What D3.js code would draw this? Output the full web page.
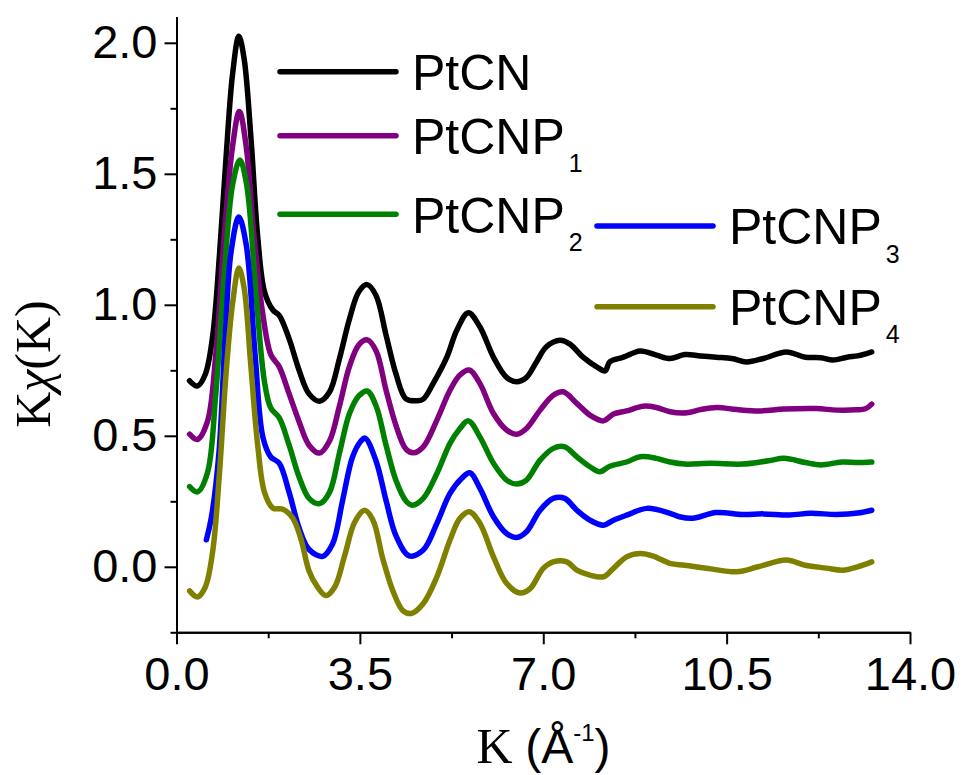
<!DOCTYPE html>
<html>
<head>
<meta charset="utf-8">
<script src="https://cdn.jsdelivr.net/npm/d3@7"></script>
<style>
  html, body { margin: 0; padding: 0; background: #fff; }
  svg { display: block; }
</style>
</head>
<body>
<svg id="chart" width="964" height="775"></svg>
<script>
// ---------------- data ----------------
const seriesNames = ["PtCN", "PtCNP1", "PtCNP2", "PtCNP3", "PtCNP4"];
const seriesBase = ["PtCNP", "PtCNP", "PtCNP", "PtCNP", "PtCNP"];
const seriesSub = ["", "1", "2", "3", "4"];
const seriesColors = ["#000000", "#800080", "#008000", "#0000ff", "#808000"];

const xMajorTicks = [0.0, 3.5, 7.0, 10.5, 14.0];
const xMinorTicks = [1.75, 5.25, 8.75, 12.25];
const yMajorTicks = [0.0, 0.5, 1.0, 1.5, 2.0];
const yMinorTicks = [-0.25, 0.25, 0.75, 1.25, 1.75];

const PtCN = [[0.25,0.71],[0.40,0.69],[0.55,0.735],[0.69,0.88],[0.82,1.19],[0.945,1.56],[1.07,1.88],[1.19,2.025],[1.29,1.94],[1.42,1.64],[1.55,1.26],[1.68,1.05],[1.84,0.98],[1.96,0.96],[2.15,0.87],[2.34,0.75],[2.53,0.66],[2.73,0.632],[2.92,0.667],[3.11,0.794],[3.30,0.945],[3.48,1.05],[3.64,1.077],[3.81,1.035],[4.0,0.884],[4.19,0.735],[4.38,0.641],[4.6,0.634],[4.71,0.64],[4.90,0.70],[5.16,0.80],[5.35,0.903],[5.57,0.97],[5.79,0.916],[6.05,0.80],[6.30,0.723],[6.49,0.706],[6.68,0.723],[6.87,0.782],[7.06,0.84],[7.32,0.865],[7.51,0.85],[7.76,0.80],[8.02,0.763],[8.18,0.748],[8.27,0.782],[8.53,0.80],[8.85,0.824],[9.16,0.808],[9.42,0.795],[9.7,0.81],[10.0,0.805],[10.3,0.80],[10.6,0.795],[10.88,0.782],[11.2,0.795],[11.64,0.82],[12.0,0.80],[12.3,0.798],[12.53,0.789],[12.8,0.80],[13.0,0.805],[13.17,0.814],[13.27,0.82]];

const PtCNP1 = [[0.25,0.506],[0.40,0.486],[0.59,0.554],[0.75,0.81],[0.91,1.26],[1.07,1.605],[1.20,1.738],[1.33,1.605],[1.48,1.26],[1.65,0.96],[1.80,0.81],[1.96,0.764],[2.15,0.66],[2.34,0.554],[2.53,0.464],[2.73,0.434],[2.92,0.48],[3.11,0.614],[3.30,0.764],[3.48,0.847],[3.64,0.866],[3.81,0.824],[4.0,0.674],[4.19,0.539],[4.38,0.449],[4.52,0.435],[4.71,0.458],[4.97,0.56],[5.22,0.674],[5.41,0.732],[5.59,0.751],[5.79,0.70],[6.05,0.585],[6.30,0.522],[6.49,0.506],[6.68,0.528],[6.94,0.598],[7.19,0.655],[7.38,0.668],[7.64,0.624],[7.89,0.579],[8.15,0.557],[8.34,0.583],[8.59,0.595],[8.91,0.613],[9.16,0.608],[9.42,0.592],[9.74,0.588],[10.0,0.60],[10.31,0.608],[10.7,0.60],[11.13,0.595],[11.6,0.602],[12.21,0.604],[12.6,0.598],[12.97,0.599],[13.15,0.603],[13.27,0.621]];

const PtCNP2 = [[0.25,0.306],[0.40,0.286],[0.59,0.358],[0.75,0.66],[0.91,1.11],[1.07,1.457],[1.21,1.553],[1.34,1.457],[1.52,1.035],[1.68,0.705],[1.80,0.606],[1.96,0.569],[2.15,0.464],[2.34,0.343],[2.53,0.261],[2.73,0.241],[2.92,0.284],[3.11,0.434],[3.30,0.584],[3.48,0.652],[3.64,0.671],[3.81,0.614],[4.0,0.464],[4.19,0.329],[4.38,0.251],[4.50,0.235],[4.71,0.261],[4.97,0.356],[5.22,0.471],[5.41,0.528],[5.57,0.557],[5.79,0.496],[6.05,0.395],[6.30,0.331],[6.49,0.316],[6.68,0.331],[6.94,0.407],[7.19,0.452],[7.41,0.458],[7.64,0.42],[7.89,0.382],[8.08,0.363],[8.27,0.384],[8.59,0.40],[8.85,0.42],[9.16,0.414],[9.42,0.40],[9.7,0.392],[10.2,0.395],[10.8,0.392],[11.3,0.405],[11.6,0.414],[12.0,0.398],[12.3,0.389],[12.7,0.40],[13.0,0.398],[13.27,0.40]];

const PtCNP3 = [[0.57,0.103],[0.67,0.194],[0.81,0.434],[0.93,0.884],[1.04,1.20],[1.19,1.335],[1.33,1.23],[1.50,0.81],[1.65,0.494],[1.80,0.419],[1.96,0.396],[2.15,0.284],[2.34,0.148],[2.53,0.066],[2.79,0.04],[2.98,0.088],[3.17,0.253],[3.36,0.419],[3.52,0.48],[3.60,0.491],[3.81,0.403],[4.0,0.253],[4.19,0.118],[4.44,0.042],[4.71,0.064],[4.97,0.166],[5.22,0.28],[5.44,0.337],[5.60,0.359],[5.79,0.30],[6.05,0.191],[6.30,0.127],[6.49,0.112],[6.68,0.134],[6.94,0.216],[7.19,0.261],[7.41,0.261],[7.64,0.216],[7.89,0.178],[8.15,0.159],[8.34,0.178],[8.59,0.197],[8.98,0.223],[9.42,0.204],[9.6,0.191],[9.85,0.185],[10.3,0.207],[10.8,0.20],[11.2,0.202],[11.7,0.198],[12.1,0.204],[12.6,0.20],[13.0,0.205],[13.27,0.216]];

const PtCNP4 = [[0.25,-0.092],[0.40,-0.115],[0.55,-0.077],[0.69,0.058],[0.82,0.358],[0.945,0.735],[1.07,1.005],[1.19,1.14],[1.29,1.065],[1.42,0.764],[1.55,0.464],[1.68,0.284],[1.84,0.224],[2.03,0.22],[2.22,0.186],[2.38,0.103],[2.53,-0.016],[2.69,-0.077],[2.85,-0.11],[3.02,-0.077],[3.21,0.043],[3.40,0.17],[3.59,0.216],[3.75,0.178],[3.94,0.029],[4.13,-0.092],[4.32,-0.167],[4.48,-0.178],[4.71,-0.14],[4.97,-0.038],[5.22,0.102],[5.41,0.185],[5.59,0.21],[5.79,0.166],[6.05,0.038],[6.30,-0.063],[6.56,-0.10],[6.75,-0.083],[7.0,-0.006],[7.19,0.019],[7.45,0.019],[7.64,-0.013],[7.89,-0.032],[8.15,-0.038],[8.34,-0.006],[8.59,0.038],[8.85,0.051],[9.10,0.041],[9.42,0.013],[9.7,0.006],[10.2,-0.008],[10.69,-0.019],[11.1,0.0],[11.64,0.026],[12.0,0.006],[12.4,-0.005],[12.72,-0.013],[13.0,0.0],[13.27,0.019]];

const seriesData = [PtCN, PtCNP1, PtCNP2, PtCNP3, PtCNP4];

// ---------------- drawing ----------------
const svg = d3.select("#chart");
const sansFont = "'Liberation Sans', Arial, Helvetica, sans-serif";
const serifFont = "'Liberation Serif', 'Times New Roman', serif";

const x = d3.scaleLinear().domain([0, 14]).range([176.5, 910]);
const y = d3.scaleLinear().domain([-0.25, 2.1]).range([632.3, 16.6]);

// curves
const line = d3.line()
  .x(d => x(d[0]))
  .y(d => y(d[1]))
  .curve(d3.curveCatmullRom.alpha(0.5));

svg.append("g").selectAll("path")
  .data(seriesData)
  .join("path")
  .attr("d", line)
  .attr("fill", "none")
  .attr("stroke", (d, i) => seriesColors[i])
  .attr("stroke-width", 5.5)
  .attr("stroke-linejoin", "round")
  .attr("stroke-linecap", "round");

// axes
function styleAxis(g) {
  g.select(".domain").attr("stroke", "#000").attr("stroke-width", 2);
  g.selectAll(".tick line").attr("stroke", "#000").attr("stroke-width", 2);
  g.selectAll(".tick text").attr("fill", "#000")
    .style("font-family", sansFont).style("font-size", "47px");
}

const xAxisY = y(-0.25);
svg.append("g")
  .attr("transform", `translate(0,${xAxisY})`)
  .call(d3.axisBottom(x).tickValues(xMinorTicks).tickSize(6).tickSizeOuter(0).tickFormat(""))
  .call(styleAxis);
svg.append("g")
  .attr("transform", `translate(0,${xAxisY})`)
  .call(d3.axisBottom(x).tickValues(xMajorTicks).tickSize(12).tickSizeOuter(0).tickPadding(12).tickFormat(d3.format(".1f")))
  .call(styleAxis);

const yAxisX = x(0);
svg.append("g")
  .attr("transform", `translate(${yAxisX},0)`)
  .call(d3.axisLeft(y).tickValues(yMinorTicks).tickSize(6).tickSizeOuter(0).tickFormat(""))
  .call(styleAxis);
svg.append("g")
  .attr("transform", `translate(${yAxisX},0)`)
  .call(d3.axisLeft(y).tickValues(yMajorTicks).tickSize(12).tickSizeOuter(0).tickPadding(7).tickFormat(d3.format(".1f")))
  .call(styleAxis);

// y axis title
const yt = svg.append("text")
  .attr("transform", "translate(50,364) rotate(-90)")
  .attr("text-anchor", "middle")
  .style("font-family", serifFont)
  .style("font-size", "50px")
  .attr("fill", "#000");
yt.append("tspan").text("K");
yt.append("tspan").style("font-style", "italic").text("χ");
yt.append("tspan").text("(K)");

// x axis title
const xt = svg.append("text")
  .attr("x", 543.5).attr("y", 763)
  .attr("text-anchor", "middle")
  .attr("fill", "#000");
xt.append("tspan").style("font-family", serifFont).style("font-size", "50px").text("K ");
xt.append("tspan").style("font-family", sansFont).style("font-size", "48px").text("(Å");
xt.append("tspan").style("font-family", sansFont).style("font-size", "24px").attr("dy", -22).text("-1");
xt.append("tspan").style("font-family", sansFont).style("font-size", "48px").attr("dy", 22).text(")");

// legend
const legendPos = [
  { lx: 280, ly: 71.7 },
  { lx: 280, ly: 135.7 },
  { lx: 280, ly: 214.3 },
  { lx: 597, ly: 226 },
  { lx: 597, ly: 306.7 }
];
const legend = svg.append("g");
legendPos.forEach((p, i) => {
  legend.append("line")
    .attr("x1", p.lx).attr("x2", p.lx + 116)
    .attr("y1", p.ly).attr("y2", p.ly)
    .attr("stroke", seriesColors[i])
    .attr("stroke-width", 5.5)
    .attr("stroke-linecap", "round");
  const t = legend.append("text")
    .attr("x", p.lx + 132).attr("y", p.ly + 18.3)
    .attr("fill", "#000")
    .style("font-family", sansFont)
    .style("font-size", "50px");
  if (seriesSub[i] === "") {
    t.append("tspan").text(seriesNames[i]);
  } else {
    t.append("tspan").text(seriesBase[i]);
    t.append("tspan").attr("dx", 4).attr("dy", 18.4)
      .style("font-size", "25px").text(seriesSub[i]);
  }
});
</script>
</body>
</html>
